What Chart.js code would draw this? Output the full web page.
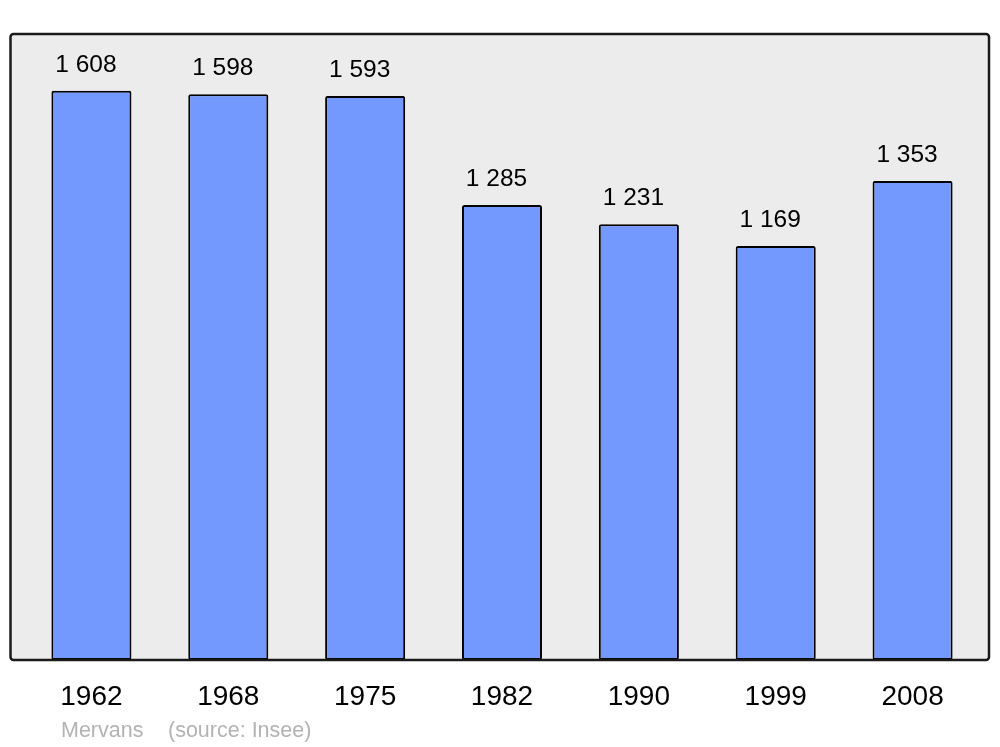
<!DOCTYPE html>
<html>
<head>
<meta charset="utf-8">
<script src="https://cdn.jsdelivr.net/npm/chart.js@4/dist/chart.umd.min.js"></script>
<style>
    html, body { margin: 0; padding: 0; background: #ffffff; }
    #wrap { width: 1000px; height: 747px; }
</style>
</head>
<body>
<div id="wrap"><canvas id="population"></canvas></div>
<script>
const years = ['1962', '1968', '1975', '1982', '1990', '1999', '2008']
const population = [1608, 1598, 1593, 1285, 1231, 1169, 1353]
const yMax = 1768
const townName = 'Mervans'
const sourceText = '(source: Insee)'

function formatNumber(n) {
    return String(n).replace(/\B(?=(\d{3})+(?!\d))/g, ' ')
}

// gray frame behind the bars
const framePlugin = {
    id: 'frame',
    beforeDraw(chart) {
        const { ctx, chartArea } = chart
        const x0 = chartArea.left - 12.5
        const x1 = chartArea.right + 8
        const y0 = chartArea.top
        const y1 = chartArea.bottom
        ctx.save()
        ctx.beginPath()
        ctx.roundRect(x0, y0, x1 - x0, y1 - y0, 3)
        ctx.fillStyle = '#ececec'
        ctx.fill()
        ctx.restore()
    },
    afterDatasetsDraw(chart) {
        const { ctx, chartArea } = chart
        const x0 = chartArea.left - 12.5
        const x1 = chartArea.right + 8
        const y0 = chartArea.top
        const y1 = chartArea.bottom
        ctx.save()
        ctx.beginPath()
        ctx.roundRect(x0, y0, x1 - x0, y1 - y0, 3)
        ctx.lineWidth = 2.5
        ctx.strokeStyle = '#1a1a1a'
        ctx.stroke()

        // values above bars
        const meta = chart.getDatasetMeta(0)
        ctx.fillStyle = '#000000'
        ctx.font = '24.5px "Liberation Sans", Arial, sans-serif'
        ctx.textAlign = 'center'
        ctx.textBaseline = 'alphabetic'
        meta.data.forEach((bar, i) => {
            ctx.fillText(formatNumber(population[i]), bar.x - 5.5, bar.y - 19)
        })

        // footer
        ctx.fillStyle = '#b3b3b3'
        ctx.font = '21.5px "Liberation Sans", Arial, sans-serif'
        ctx.textAlign = 'left'
        ctx.fillText(townName, 61, 737)
        ctx.fillText(sourceText, 168, 737)
        ctx.restore()
    }
}

const ctx = document.getElementById('population')
const chart = new Chart(ctx, {
    type: 'bar',
    data: {
        labels: years,
        datasets: [{
            data: population,
            backgroundColor: '#7399ff',
            borderColor: '#000000',
            borderWidth: 2,
            borderRadius: 2,
            borderSkipped: false,
            barPercentage: 0.585,
            categoryPercentage: 1
        }]
    },
    options: {
        responsive: true,
        maintainAspectRatio: false,
        animation: false,
        layout: { padding: { left: 23, right: 19, top: 34, bottom: 0 } },
        plugins: {
            legend: { display: false },
            tooltip: { enabled: false }
        },
        scales: {
            x: {
                grid: { display: false, drawTicks: false },
                border: { display: false },
                ticks: {
                    color: '#000000',
                    padding: 20,
                    font: { family: '"Liberation Sans", Arial, sans-serif', size: 28 }
                },
                afterFit(scale) { scale.height = 87 }
            },
            y: {
                display: false,
                min: 0,
                max: yMax
            }
        }
    },
    plugins: [framePlugin]
})
</script>
</body>
</html>
